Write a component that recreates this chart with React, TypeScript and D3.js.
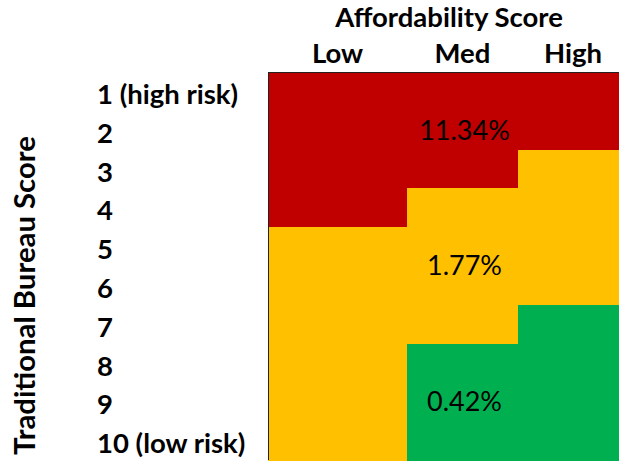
import React from "react";
import * as d3 from "d3";

// Affordability score columns and bureau score rows
const affordability = ["Low", "Med", "High"];
const bureauScores = [
  "1 (high risk)", "2", "3", "4", "5", "6", "7", "8", "9", "10 (low risk)",
];

// Risk zone of each cell, per affordability column (top to bottom)
const zoneLow = ["high", "high", "high", "high", "med", "med", "med", "med", "med", "med"];
const zoneMed = ["high", "high", "high", "med", "med", "med", "med", "low", "low", "low"];
const zoneHigh = ["high", "high", "med", "med", "med", "med", "low", "low", "low", "low"];

// Default rate reported for each risk zone, and where its label sits
const zoneKeys = ["high", "med", "low"];
const zoneRates = ["11.34%", "1.77%", "0.42%"];
const zoneLabelRow = [2, 5.5, 9]; // bureau score row the label is centred on

const W = 619;
const H = 461;
const gridLeft = 268;
const gridTop = 72;
const gridBottom = 460;
const colWidths = [139, 111, 110];
const font = "Lato, 'Open Sans', sans-serif";

export default function App() {
  const zoneByCol = [zoneLow, zoneMed, zoneHigh];

  const edges = [gridLeft, ...Array.from(d3.cumsum(colWidths), (c) => gridLeft + c)];
  const x = d3.scaleOrdinal<string, number>().domain(affordability).range(edges.slice(0, 3));
  const colW = d3.scaleOrdinal<string, number>().domain(affordability).range(colWidths);

  const y = d3.scaleBand<string>().domain(bureauScores).range([gridTop, gridBottom]);
  const rowPos = d3
    .scaleLinear()
    .domain([1, bureauScores.length + 1])
    .range([gridTop, gridBottom]);

  const color = d3
    .scaleOrdinal<string, string>()
    .domain(zoneKeys)
    .range(["#C00000", "#FFC000", "#00B050"]);

  const cells = affordability.flatMap((col, ci) =>
    bureauScores.map((row, ri) => ({ col, row, zone: zoneByCol[ci][ri] }))
  );

  return (
    <svg
      width={W}
      height={H}
      style={{ position: "absolute", left: 0, top: 0, background: "#fff" }}
      fontFamily={font}
    >
      <g shapeRendering="crispEdges">
        {cells.map((c) => (
          <rect
            key={c.col + c.row}
            x={Math.round(x(c.col))}
            y={Math.round(y(c.row)!)}
            width={Math.round(x(c.col) + colW(c.col)) - Math.round(x(c.col)) + 1}
            height={Math.round(y(c.row)! + y.bandwidth()) - Math.round(y(c.row)!) + 1}
            fill={color(c.zone)}
          />
        ))}
        {/* thin frame on the grid's outer top and left edges */}
        <line x1={gridLeft} x2={W} y1={gridTop} y2={gridTop} stroke="#222" strokeWidth={1} />
        <line x1={gridLeft} x2={gridLeft} y1={gridTop} y2={gridBottom} stroke="#222" strokeWidth={1} />
      </g>

      {zoneKeys.map((z, i) => (
        <text
          key={z}
          x={x("Med") + colW("Med") / 2 + 2}
          y={rowPos(zoneLabelRow[i] + 0.5)}
          dy="0.35em"
          textAnchor="middle"
          fontSize={27}
          fill="#000"
        >
          {zoneRates[i]}
        </text>
      ))}

      <text x={449} y={26.5} textAnchor="middle" fontSize={27.5} fontWeight={700}>
        Affordability Score
      </text>
      {affordability.map((c) => (
        <text
          key={c}
          x={x(c) + colW(c) / 2}
          y={63}
          textAnchor="middle"
          fontSize={27.5}
          fontWeight={700}
        >
          {c}
        </text>
      ))}

      {bureauScores.map((r) => (
        <text key={r} x={97} y={y(r)! + y.bandwidth() / 2 + 12.5} fontSize={27.5} fontWeight={700}>
          {r}
        </text>
      ))}

      <text
        transform={`translate(35, 295.5) rotate(-90)`}
        textAnchor="middle"
        fontSize={29.3}
        fontWeight={700}
      >
        Traditional Bureau Score
      </text>
    </svg>
  );
}
